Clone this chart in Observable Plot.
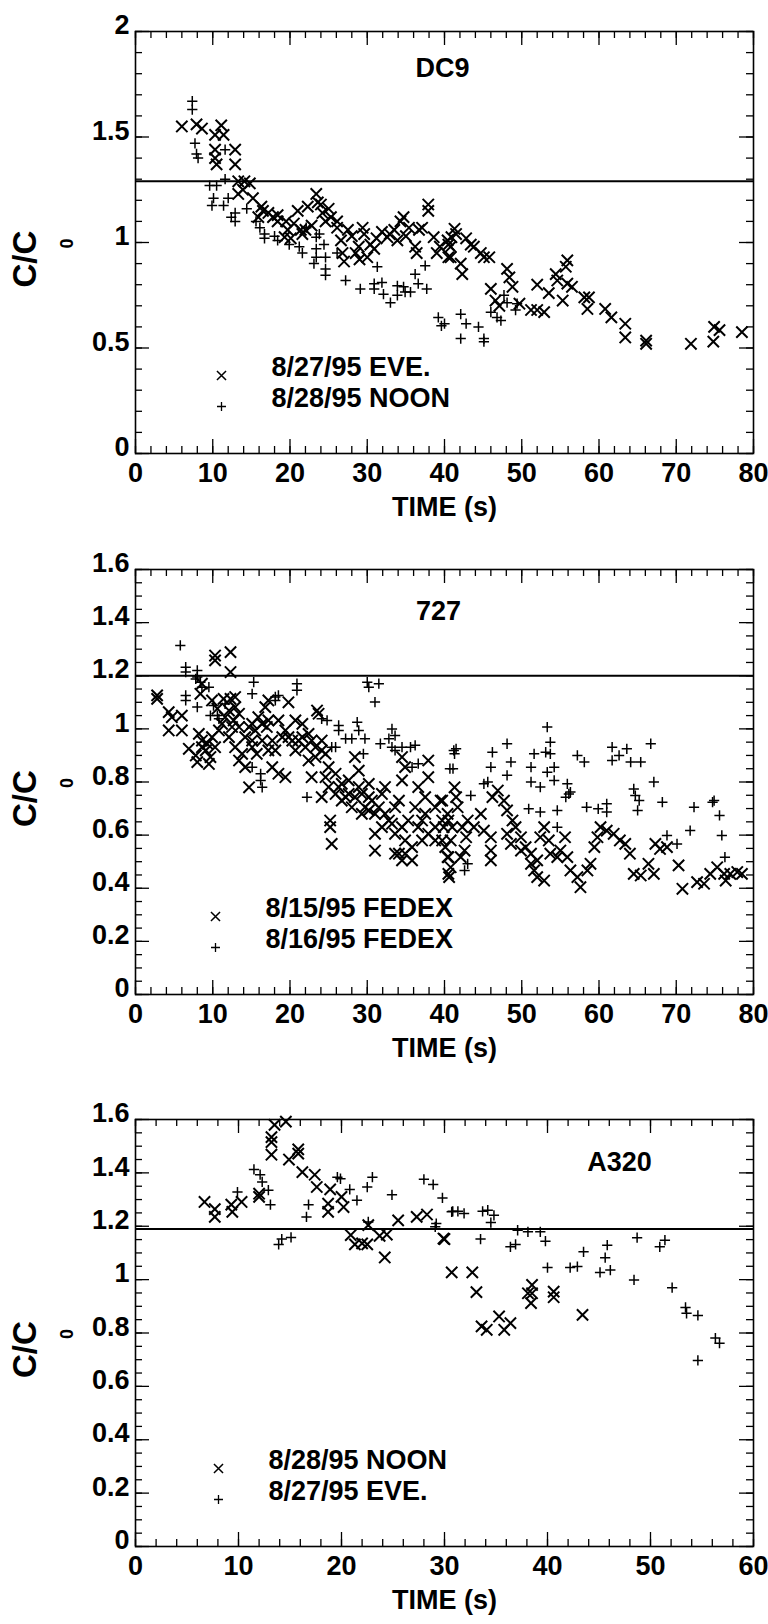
<!DOCTYPE html>
<html><head><meta charset="utf-8">
<script src="https://cdn.jsdelivr.net/npm/d3@7"></script>
<script src="https://cdn.jsdelivr.net/npm/@observablehq/plot@0.6"></script>
<style>
body{margin:0;background:#fff;width:768px}
#chart svg{display:block}
</style></head><body><div id="chart"></div>
<script>
// ---------- DATA ----------
const panelTitles = ["DC9", "727", "A320"];
const xAxisLabel = "TIME (s)";
const yAxisLabel = "C/C";
const yAxisSub = "0";
const legendDC9 = ["8/27/95 EVE.", "8/28/95 NOON"];
const legend727 = ["8/15/95 FEDEX", "8/16/95 FEDEX"];
const legendA320 = ["8/28/95 NOON", "8/27/95 EVE."];
const refLevels = [1.29, 1.2, 1.19];
const xTicks80 = [0, 10, 20, 30, 40, 50, 60, 70, 80];
const xTicks60 = [0, 10, 20, 30, 40, 50, 60];
const yTicksDC9 = [0, 0.5, 1, 1.5, 2];
const yTicks16 = [0, 0.2, 0.4, 0.6, 0.8, 1, 1.2, 1.4, 1.6];

// DC9: x = 8/27/95 EVE., + = 8/28/95 NOON  [time s, C/C0]
const dc9Eve = [[6.0,1.55],[7.9,1.56],[8.6,1.54],[10.3,1.51],[11.1,1.555],[11.4,1.51],[10.3,1.44],[10.3,1.40],[10.5,1.37],[12.9,1.44],[12.9,1.37],[13.3,1.29],[14.1,1.29],[14.8,1.28],[13.3,1.23],[13.9,1.25],[15.2,1.21],[16.3,1.17],[16.5,1.15],[15.9,1.12],[18.4,1.13],[18.4,1.10],[19.5,1.10],[19.7,1.06],[19.3,1.025],[20.1,1.02],[21.0,1.15],[21.4,1.06],[21.6,1.04],[22.3,1.17],[23.4,1.23],[23.6,1.19],[24.0,1.18],[24.2,1.14],[24.6,1.10],[25.3,1.12],[26.1,1.10],[26.1,1.07],[26.6,1.01],[26.8,0.95],[27.0,0.91],[28.5,0.95],[28.9,0.98],[29.4,1.07],[29.6,1.04],[30.4,0.99],[30.9,0.97],[31.9,1.05],[32.6,1.025],[33.9,1.01],[34.3,1.10],[34.7,1.12],[35.4,1.07],[36.2,0.98],[36.4,0.95],[37.1,1.07],[37.9,1.18],[37.9,1.15],[38.6,1.025],[39.0,0.95],[39.4,0.98],[40.5,0.99],[40.5,0.93],[40.9,1.025],[41.3,1.065],[40.4,1.01],[40.8,0.98],[41.5,1.04],[40.8,0.93],[42.1,0.90],[42.3,0.85],[42.8,1.02],[43.4,0.99],[43.8,0.98],[44.7,0.95],[45.1,0.93],[45.8,0.93],[46.0,0.78],[46.6,0.725],[47.1,0.70],[48.1,0.875],[48.4,0.835],[48.8,0.79],[49.7,0.71],[51.2,0.68],[52.0,0.68],[52.0,0.80],[52.9,0.67],[53.5,0.76],[54.4,0.85],[54.6,0.82],[55.3,0.725],[55.7,0.885],[55.9,0.915],[55.9,0.805],[56.5,0.79],[58.1,0.74],[58.7,0.74],[58.5,0.685],[60.8,0.685],[61.6,0.645],[63.4,0.615],[63.4,0.55],[66.1,0.535],[66.1,0.52],[71.9,0.52],[74.9,0.60],[74.8,0.53],[75.6,0.585],[78.5,0.575],[17.2,1.14],[17.8,1.12],[20.5,1.09],[22.8,1.08],[22.0,1.06],[25.0,1.16],[27.5,1.06],[28.0,1.03],[31.2,1.02],[32.9,1.04],[33.5,1.06],[35.0,1.03],[36.7,1.06],[29.0,0.92],[30.0,0.93]];
const dc9Noon = [[7.35,1.67],[7.35,1.63],[7.7,1.47],[7.9,1.42],[8.1,1.40],[11.6,1.44],[9.6,1.27],[10.5,1.27],[10.1,1.21],[9.9,1.175],[11.4,1.175],[11.6,1.30],[12.0,1.21],[12.4,1.12],[12.9,1.10],[12.9,1.14],[14.4,1.16],[15.6,1.10],[16.1,1.07],[16.7,1.04],[16.7,1.02],[18.0,1.03],[18.4,1.01],[19.9,0.99],[21.2,0.98],[21.6,0.95],[22.1,1.07],[23.4,1.025],[23.4,0.97],[23.4,0.93],[23.1,0.90],[24.6,0.93],[24.6,0.875],[24.6,0.845],[23.8,1.04],[24.4,0.99],[26.1,0.95],[27.2,0.82],[29.1,0.78],[30.9,0.78],[31.3,0.885],[30.9,0.805],[31.9,0.81],[32.1,0.755],[33.0,0.715],[33.9,0.75],[33.9,0.795],[34.7,0.79],[34.9,0.765],[35.6,0.765],[36.2,0.85],[36.6,0.805],[37.5,0.89],[37.7,0.78],[39.2,0.645],[39.6,0.605],[40.0,0.615],[42.1,0.66],[42.1,0.545],[42.8,0.615],[44.4,0.60],[45.1,0.545],[45.1,0.53],[46.0,0.67],[46.8,0.645],[47.3,0.63],[47.7,0.75],[48.1,0.715],[49.2,0.68],[49.4,0.71]];

// 727: x = 8/15/95 FEDEX, + = 8/16/95 FEDEX
const b727Fedex15 = [[2.8,1.126],[2.8,1.113],[4.3,1.063],[6.0,1.05],[4.3,0.994],[6.0,0.994],[6.9,0.925],[7.8,0.90],[8.0,0.875],[9.5,0.868],[9.3,0.944],[9.9,0.969],[8.6,0.956],[10.3,1.258],[10.3,1.276],[12.3,1.289],[12.3,1.214],[8.6,1.17],[8.4,1.132],[9.9,1.107],[10.6,1.076],[11.4,1.113],[12.3,1.113],[12.9,1.12],[11.6,1.044],[12.7,1.032],[13.4,1.007],[14.2,0.969],[15.1,0.931],[13.8,0.906],[14.2,0.856],[14.7,0.78],[15.9,1.044],[16.8,1.082],[17.2,1.107],[15.5,0.994],[16.4,0.956],[17.2,0.919],[17.7,0.856],[18.5,0.831],[19.4,0.818],[19.8,1.10],[18.5,1.032],[19.8,0.969],[20.7,1.032],[21.6,1.019],[21.1,0.956],[22.0,0.931],[23.5,1.069],[23.7,1.057],[22.4,0.881],[23.3,0.894],[22.8,0.818],[24.1,0.956],[24.6,0.906],[25.0,0.856],[24.1,0.743],[25.0,0.781],[25.9,0.755],[26.7,0.793],[27.6,0.806],[27.2,0.743],[25.2,0.655],[25.2,0.63],[25.4,0.567],[28.4,0.894],[28.9,0.843],[29.3,0.755],[29.7,0.705],[30.2,0.743],[31.0,0.68],[31.9,0.755],[32.3,0.781],[31.0,0.605],[31.0,0.542],[34.5,0.894],[34.9,0.856],[34.5,0.806],[34.1,0.73],[33.2,0.643],[34.1,0.53],[34.9,0.53],[35.8,0.505],[35.8,0.555],[36.6,0.781],[37.9,0.881],[37.9,0.818],[37.5,0.743],[37.1,0.655],[38.8,0.58],[38.8,0.705],[39.7,0.73],[40.5,0.517],[40.5,0.454],[40.5,0.655],[4.7,1.044],[8.6,0.931],[9.1,0.919],[9.7,0.894],[8.2,0.981],[11.2,1.019],[10.8,0.994],[10.3,0.931],[12.1,1.069],[12.9,1.082],[13.4,1.057],[12.5,1.007],[12.1,0.969],[12.9,0.931],[13.4,0.881],[14.7,1.007],[15.1,1.019],[15.1,0.956],[15.7,0.906],[17.0,1.007],[17.2,1.032],[16.4,1.019],[17.7,0.956],[18.1,0.919],[19.0,0.969],[19.4,0.994],[20.3,0.956],[20.7,0.919],[21.6,0.969],[22.4,0.981],[22.8,0.956],[23.3,0.931],[24.1,0.919],[24.6,0.818],[25.9,0.831],[26.3,0.781],[26.7,0.73],[27.6,0.755],[28.0,0.705],[28.4,0.743],[28.9,0.781],[30.2,0.793],[29.3,0.68],[30.2,0.693],[30.6,0.73],[31.5,0.705],[32.3,0.68],[32.8,0.655],[31.9,0.63],[33.6,0.705],[33.6,0.605],[34.5,0.63],[34.9,0.58],[35.3,0.655],[36.2,0.705],[36.6,0.63],[37.1,0.58],[37.5,0.68],[37.9,0.605],[38.8,0.63],[39.7,0.655],[39.7,0.58],[40.1,0.555],[34.5,0.505],[33.6,0.53],[39.5,0.73],[39.9,0.63],[40.4,0.68],[41.3,0.78],[41.5,0.743],[41.7,0.705],[41.0,0.63],[40.8,0.58],[40.4,0.517],[40.8,0.479],[40.6,0.442],[42.3,0.63],[43.0,0.655],[43.8,0.63],[42.8,0.592],[42.6,0.542],[42.1,0.517],[44.7,0.68],[45.1,0.617],[46.0,0.592],[46.0,0.542],[46.0,0.505],[46.2,0.743],[46.9,0.768],[47.7,0.73],[48.1,0.693],[48.8,0.655],[49.2,0.63],[48.1,0.605],[48.6,0.567],[49.9,0.592],[50.5,0.555],[49.9,0.542],[51.2,0.53],[51.2,0.492],[51.6,0.467],[52.0,0.505],[52.9,0.429],[52.0,0.442],[52.4,0.592],[52.9,0.63],[53.5,0.58],[53.7,0.53],[54.6,0.517],[55.0,0.542],[55.6,0.592],[55.9,0.517],[56.3,0.467],[57.2,0.442],[57.6,0.404],[58.5,0.467],[58.9,0.492],[59.4,0.555],[59.8,0.592],[60.2,0.63],[61.0,0.617],[61.9,0.605],[62.7,0.58],[63.4,0.567],[64.0,0.53],[64.5,0.454],[65.4,0.448],[66.4,0.492],[67.1,0.454],[67.3,0.567],[67.9,0.548],[68.8,0.555],[70.3,0.486],[70.8,0.398],[72.7,0.423],[73.6,0.417],[74.4,0.454],[75.3,0.479],[76.2,0.454],[76.4,0.429],[77.0,0.454],[77.9,0.461],[78.5,0.454]];
const b727Fedex16 = [[5.8,1.314],[6.5,1.232],[6.5,1.214],[8.0,1.22],[8.0,1.195],[6.5,1.126],[6.5,1.107],[8.0,1.082],[8.6,1.157],[9.5,1.157],[9.7,1.05],[10.8,1.038],[11.6,1.094],[15.3,1.176],[15.1,1.132],[18.5,1.126],[18.1,1.107],[20.9,1.17],[20.9,1.145],[30.0,1.176],[30.2,1.157],[31.5,1.17],[31.0,1.101],[24.8,1.032],[26.3,1.013],[26.3,0.994],[27.2,0.963],[28.7,1.025],[28.9,0.994],[29.7,0.963],[29.5,0.906],[31.7,0.944],[33.2,1.0],[33.6,0.975],[33.2,0.931],[34.5,0.931],[35.6,0.931],[36.2,0.938],[35.8,0.856],[41.2,0.919],[40.7,0.85],[16.2,0.831],[16.4,0.78],[15.1,0.856],[22.2,0.743],[7.8,1.188],[8.4,1.176],[10.1,1.088],[10.6,1.05],[18.1,1.12],[24.1,1.038],[25.4,0.931],[25.9,0.931],[28.0,0.963],[32.8,0.963],[33.6,0.919],[36.6,0.869],[16.2,0.806],[53.3,1.007],[53.7,0.95],[53.1,0.912],[53.7,0.906],[54.2,0.856],[54.2,0.806],[53.3,0.837],[52.4,0.781],[50.9,0.699],[52.4,0.687],[54.6,0.693],[54.6,0.63],[51.6,0.906],[51.2,0.856],[51.2,0.80],[48.1,0.944],[48.6,0.875],[48.1,0.825],[46.2,0.912],[46.0,0.856],[45.1,0.793],[43.4,0.749],[41.5,0.925],[41.3,0.906],[41.1,0.85],[45.6,0.80],[55.9,0.793],[56.1,0.755],[55.7,0.743],[57.2,0.90],[58.1,0.875],[61.7,0.931],[61.7,0.881],[62.6,0.90],[63.6,0.925],[64.1,0.875],[65.4,0.875],[66.7,0.944],[64.5,0.774],[64.7,0.749],[65.2,0.73],[65.0,0.693],[67.1,0.80],[68.2,0.724],[72.3,0.705],[71.8,0.617],[74.9,0.73],[74.7,0.724],[75.6,0.674],[75.9,0.599],[76.3,0.517],[58.4,0.705],[59.9,0.699],[61.0,0.718],[61.0,0.687],[68.8,0.599],[70.1,0.567],[42.6,0.467],[43.0,0.492],[56.3,0.762]];

// A320: x = 8/28/95 NOON, + = 8/27/95 EVE.
const a320Noon = [[6.7,1.291],[7.7,1.264],[7.7,1.235],[9.3,1.281],[9.4,1.254],[10.3,1.291],[12.0,1.322],[12.0,1.31],[13.2,1.534],[13.2,1.515],[13.2,1.468],[13.5,1.58],[14.6,1.592],[14.9,1.45],[15.8,1.488],[15.8,1.472],[16.2,1.403],[17.4,1.393],[17.6,1.347],[18.9,1.338],[18.7,1.285],[18.7,1.254],[20.0,1.31],[20.2,1.272],[20.9,1.167],[21.3,1.132],[22.0,1.136],[22.5,1.132],[22.6,1.204],[23.7,1.164],[24.4,1.169],[24.2,1.083],[25.5,1.222],[27.3,1.235],[28.3,1.244],[29.9,1.154],[30.7,1.027],[30.0,1.152],[32.7,1.027],[33.1,0.953],[33.6,0.825],[34.1,0.812],[35.3,0.862],[35.8,0.812],[36.4,0.837],[38.1,0.949],[38.5,0.98],[38.5,0.949],[38.4,0.912],[40.6,0.955],[40.6,0.934],[43.4,0.868]];
const a320Eve = [[9.9,1.328],[13.1,1.281],[12.9,1.335],[12.3,1.366],[12.1,1.393],[11.5,1.413],[13.9,1.132],[14.2,1.152],[15.1,1.158],[16.6,1.235],[16.8,1.281],[19.6,1.384],[19.9,1.378],[20.8,1.338],[21.5,1.297],[22.5,1.347],[23.0,1.384],[22.6,1.216],[24.9,1.318],[28.0,1.376],[28.9,1.356],[29.8,1.306],[29.2,1.21],[29.1,1.198],[30.7,1.254],[30.8,1.256],[31.3,1.256],[31.9,1.248],[33.7,1.256],[34.2,1.26],[34.8,1.241],[34.5,1.214],[33.5,1.152],[37.1,1.185],[38.1,1.179],[39.3,1.179],[39.8,1.144],[36.4,1.123],[36.9,1.132],[40.0,1.045],[42.2,1.045],[42.9,1.049],[43.5,1.104],[45.1,1.027],[45.6,1.082],[45.8,1.129],[46.1,1.036],[48.4,0.999],[48.7,1.157],[50.9,1.123],[51.4,1.148],[52.1,0.97],[53.4,0.896],[53.5,0.874],[54.6,0.866],[54.6,0.697],[56.3,0.781],[56.7,0.762]];

// ---------- DRAWING ----------
const FONT = "'Liberation Sans', Arial, Helvetica, sans-serif";
const FS = 27;
function panel(cfg) {
  const W = 768;
  const fw = W - cfg.ml - cfg.mr;
  const fh = cfg.h - cfg.mt - cfg.mb;
  const xMinor = d3.range(cfg.xDomain[0], cfg.xDomain[1] + 0.001, 2);
  const xMajor = cfg.xTicks;
  const yMinor = d3.range(0, cfg.yDomain[1] + 0.001, cfg.yMinorStep).map(v => +v.toFixed(3));
  const yMajor = d3.range(0, cfg.yDomain[1] + 0.001, cfg.yMajorStep).map(v => +v.toFixed(3));
  const tickStyle = {stroke: "black", strokeWidth: 1.3};
  const acc = {x: d => d[0], y: d => d[1]};
  const txt = {text: d => d, fontSize: FS, fontWeight: "bold"};
  return Plot.plot({
    width: W, height: cfg.h,
    marginTop: cfg.mt, marginBottom: cfg.mb, marginLeft: cfg.ml, marginRight: cfg.mr,
    x: {domain: cfg.xDomain},
    y: {domain: cfg.yDomain},
    style: {fontFamily: FONT, fontWeight: "bold", fontSize: FS + "px", color: "black", background: "white"},
    marks: [
      // inward ticks on four sides
      Plot.tickY(yMinor, {y: d => d, insetRight: fw - 7, ...tickStyle}),
      Plot.tickY(yMinor, {y: d => d, insetLeft: fw - 7, ...tickStyle}),
      Plot.tickY(yMajor, {y: d => d, insetRight: fw - 14, ...tickStyle}),
      Plot.tickY(yMajor, {y: d => d, insetLeft: fw - 14, ...tickStyle}),
      Plot.tickX(xMinor, {x: d => d, insetTop: fh - 7, ...tickStyle}),
      Plot.tickX(xMinor, {x: d => d, insetBottom: fh - 7, ...tickStyle}),
      Plot.tickX(xMajor, {x: d => d, insetTop: fh - 14, ...tickStyle}),
      Plot.tickX(xMajor, {x: d => d, insetBottom: fh - 14, ...tickStyle}),
      Plot.frame({stroke: "black", strokeWidth: 1.6}),
      Plot.ruleY([cfg.ref], {stroke: "black", strokeWidth: 2}),
      Plot.axisY({ticks: cfg.yTicks, tickSize: 0, tickPadding: 6, dy: -6, label: null,
        tickFormat: d => String(d), fontSize: FS, fontWeight: "bold"}),
      Plot.axisX({ticks: cfg.xTicks, tickSize: 0, tickPadding: 9, label: null,
        tickFormat: d => String(d), fontSize: FS, fontWeight: "bold"}),
      Plot.text([xAxisLabel], {frameAnchor: "bottom", dy: 62, ...txt}),
      Plot.text([yAxisLabel], {frameAnchor: "left", dx: -110, dy: 45, rotate: -90, ...txt, fontSize: 33}),
      Plot.text([yAxisSub], {frameAnchor: "left", dx: -68, dy: 6, rotate: -90, ...txt, fontSize: 18}),
      Plot.text([cfg.title], {frameAnchor: "top", dx: cfg.titleDx, dy: cfg.titleDy, ...txt}),
      // data
      Plot.dot(cfg.series1, {...acc, symbol: "times", r: 5.2, stroke: "black", strokeWidth: 2}),
      Plot.dot(cfg.series2, {...acc, symbol: "plus", r: 3.4, stroke: "black", strokeWidth: 1.5}),
      // legend
      Plot.dot([cfg.legend[0]], {frameAnchor: "bottom-left", dx: cfg.legDx, dy: -78, symbol: "times", r: 4.2, stroke: "black", strokeWidth: 1.5}),
      Plot.dot([cfg.legend[1]], {frameAnchor: "bottom-left", dx: cfg.legDx, dy: -47, symbol: "plus", r: 3.0, stroke: "black", strokeWidth: 1.3}),
      Plot.text([cfg.legend[0]], {frameAnchor: "bottom-left", dx: cfg.legDx + 50, dy: -78, textAnchor: "start", ...txt}),
      Plot.text([cfg.legend[1]], {frameAnchor: "bottom-left", dx: cfg.legDx + 50, dy: -47, textAnchor: "start", ...txt})
    ]
  });
}

const root = document.getElementById("chart");
root.append(panel({h: 530, mt: 31, mb: 77, ml: 135, mr: 15, xDomain: [0, 80], yDomain: [0, 2],
  xTicks: xTicks80, yTicks: yTicksDC9, yMinorStep: 0.1, yMajorStep: 0.5, ref: refLevels[0],
  title: panelTitles[0], titleDx: -2, titleDy: 26, series1: dc9Eve, series2: dc9Noon, legend: legendDC9, legDx: 86}));
root.append(panel({h: 545, mt: 39, mb: 81, ml: 135, mr: 15, xDomain: [0, 80], yDomain: [0, 1.6],
  xTicks: xTicks80, yTicks: yTicks16, yMinorStep: 0.05, yMajorStep: 0.2, ref: refLevels[1],
  title: panelTitles[1], titleDx: -6, titleDy: 31, series1: b727Fedex15, series2: b727Fedex16, legend: legend727, legDx: 80}));
root.append(panel({h: 549, mt: 44, mb: 78, ml: 135, mr: 15, xDomain: [0, 60], yDomain: [0, 1.6],
  xTicks: xTicks60, yTicks: yTicks16, yMinorStep: 0.05, yMajorStep: 0.2, ref: refLevels[2],
  title: panelTitles[2], titleDx: 175, titleDy: 32, series1: a320Noon, series2: a320Eve, legend: legendA320, legDx: 83}));
</script></body></html>
